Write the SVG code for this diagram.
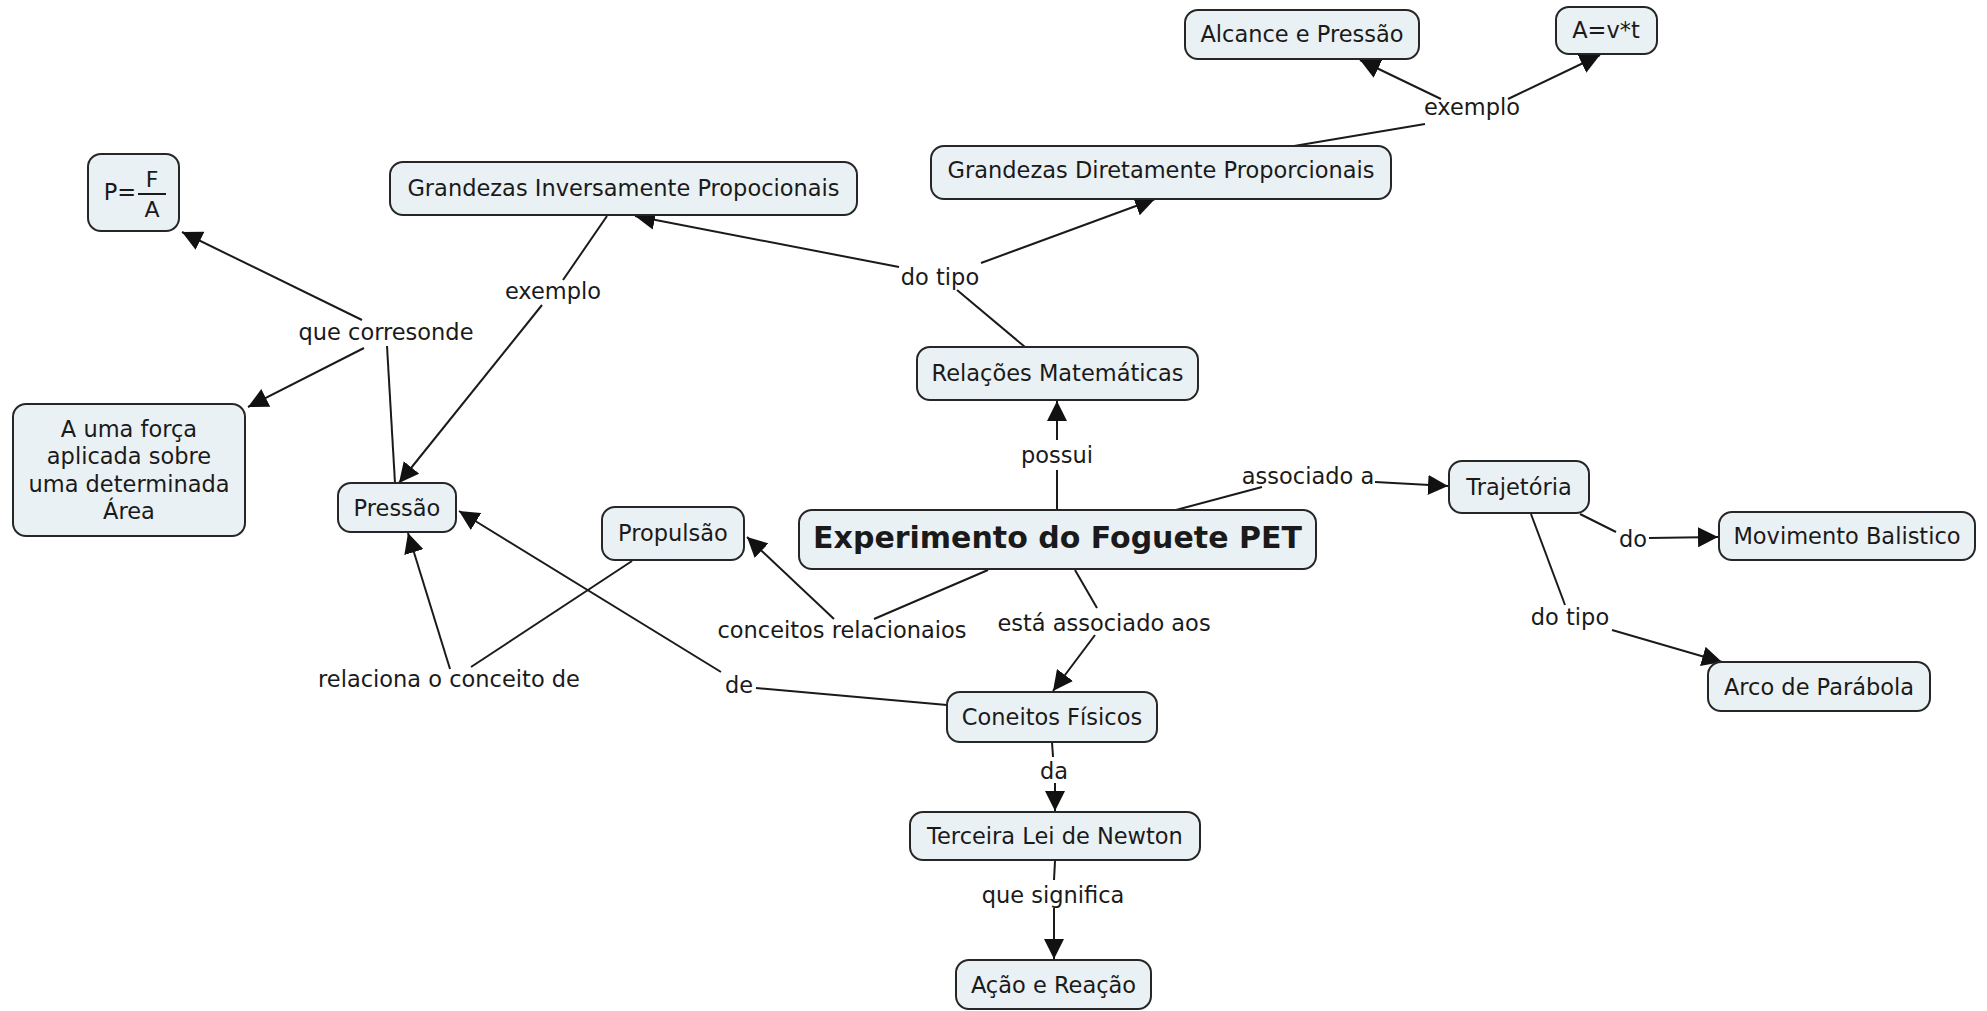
<svg xmlns="http://www.w3.org/2000/svg" width="1987" height="1011" viewBox="0 0 1987 1011">
<style>
.n rect{fill:#eaf1f4;stroke:#262626;stroke-width:2}
text{font-family:"DejaVu Sans","Liberation Sans",sans-serif;font-size:22.5px;fill:#1a1a1a;text-anchor:middle}
.b{font-weight:bold;font-size:30px}
.c line{stroke:#1a1a1a;stroke-width:2}
.a{marker-end:url(#ah)}
</style>
<defs>
<marker id="ah" markerUnits="userSpaceOnUse" markerWidth="20" markerHeight="20" refX="20" refY="10" orient="auto" viewBox="0 0 20 20">
<path d="M0,0 L20,10 L0,20 z" fill="#111"/>
</marker>
</defs>
<rect width="1987" height="1011" fill="#fff"/>
<g id="connectors" class="c">
<line x1="1294" y1="146" x2="1425" y2="124"/>
<line class="a" x1="1441" y1="99" x2="1360" y2="60"/>
<line class="a" x1="1508" y1="99" x2="1600" y2="55"/>
<line x1="607" y1="216" x2="563" y2="280"/>
<line class="a" x1="542" y1="305" x2="399" y2="483"/>
<line class="a" x1="362" y1="320" x2="182" y2="232"/>
<line class="a" x1="364" y1="348" x2="248" y2="407"/>
<line x1="395" y1="483" x2="387" y2="346"/>
<line class="a" x1="899" y1="267" x2="635" y2="216"/>
<line class="a" x1="981" y1="263" x2="1155" y2="199"/>
<line x1="1025" y1="347" x2="957" y2="290"/>
<line x1="1057" y1="510" x2="1057" y2="470"/>
<line class="a" x1="1057" y1="440" x2="1057" y2="401"/>
<line x1="1176" y1="510" x2="1262" y2="487"/>
<line class="a" x1="1375" y1="482" x2="1448" y2="486"/>
<line x1="1580" y1="514" x2="1616" y2="532"/>
<line class="a" x1="1649" y1="538" x2="1718" y2="537"/>
<line x1="1531" y1="514" x2="1565" y2="605"/>
<line class="a" x1="1612" y1="630" x2="1722" y2="662"/>
<line x1="988" y1="570" x2="874" y2="619"/>
<line class="a" x1="834" y1="619" x2="747" y2="537"/>
<line x1="1075" y1="570" x2="1097" y2="608"/>
<line class="a" x1="1095" y1="635" x2="1053" y2="691"/>
<line x1="632" y1="561" x2="471" y2="667"/>
<line class="a" x1="450" y1="669" x2="408" y2="533"/>
<line class="a" x1="721" y1="672" x2="459" y2="511"/>
<line x1="756" y1="688" x2="947" y2="705"/>
<line x1="1052" y1="742" x2="1053" y2="757"/>
<line class="a" x1="1055" y1="783" x2="1055" y2="811"/>
<line x1="1055" y1="861" x2="1054" y2="880"/>
<line class="a" x1="1054" y1="908" x2="1054" y2="959"/>
</g>
<g id="labels">
<text x="1472" y="115">exemplo</text>
<text x="940" y="285">do tipo</text>
<text x="553" y="299">exemplo</text>
<text x="386" y="340">que corresonde</text>
<text x="1057" y="463">possui</text>
<text x="1308" y="484">associado a</text>
<text x="1633" y="547">do</text>
<text x="1570" y="625">do tipo</text>
<text x="842" y="638">conceitos relacionaios</text>
<text x="1104" y="631">está associado aos</text>
<text x="449" y="687">relaciona o conceito de</text>
<text x="739" y="693">de</text>
<text x="1054" y="779">da</text>
<text x="1053" y="903">que significa</text>
</g>
<g id="alcance" class="n"><rect x="1185" y="10" width="234" height="49" rx="13"/><text x="1302" y="42">Alcance e Pressão</text></g>
<g id="avt" class="n"><rect x="1556" y="7" width="101" height="47" rx="13"/><text x="1606" y="38">A=v*t</text></g>
<g id="pfa" class="n"><rect x="88" y="154" width="91" height="77" rx="13"/><text x="120" y="200">P=</text><text x="152" y="187" style="font-size:22px">F</text><line x1="138" y1="194" x2="166" y2="194" stroke="#1a1a1a" stroke-width="2"/><text x="152" y="217" style="font-size:22px">A</text></g>
<g id="gip" class="n"><rect x="390" y="162" width="467" height="53" rx="13"/><text x="623.5" y="195.5">Grandezas Inversamente Propocionais</text></g>
<g id="gdp" class="n"><rect x="931" y="146" width="460" height="53" rx="13"/><text x="1161" y="177.5">Grandezas Diretamente Proporcionais</text></g>
<g id="relacoes" class="n"><rect x="917" y="347" width="281" height="53" rx="13"/><text x="1057.5" y="381">Relações Matemáticas</text></g>
<g id="forca" class="n"><rect x="13" y="404" width="232" height="132" rx="13"/><text x="129" y="437">A uma força</text><text x="129" y="464">aplicada sobre</text><text x="129" y="492">uma determinada</text><text x="129" y="519">Área</text></g>
<g id="pressao" class="n"><rect x="338" y="483" width="118" height="49" rx="13"/><text x="397" y="516">Pressão</text></g>
<g id="propulsao" class="n"><rect x="602" y="507" width="142" height="53" rx="13"/><text x="673" y="541">Propulsão</text></g>
<g id="experimento" class="n"><rect x="799" y="510" width="517" height="59" rx="13"/><text class="b" x="1057.5" y="547.5">Experimento do Foguete PET</text></g>
<g id="trajetoria" class="n"><rect x="1449" y="461" width="140" height="52" rx="13"/><text x="1519" y="495">Trajetória</text></g>
<g id="movimento" class="n"><rect x="1719" y="512" width="256" height="48" rx="13"/><text x="1847" y="544">Movimento Balistico</text></g>
<g id="arco" class="n"><rect x="1708" y="662" width="222" height="49" rx="13"/><text x="1819" y="694.5">Arco de Parábola</text></g>
<g id="coneitos" class="n"><rect x="947" y="692" width="210" height="50" rx="13"/><text x="1052" y="725">Coneitos Físicos</text></g>
<g id="terceira" class="n"><rect x="910" y="812" width="290" height="48" rx="13"/><text x="1055" y="844">Terceira Lei de Newton</text></g>
<g id="acao" class="n"><rect x="956" y="960" width="195" height="49" rx="13"/><text x="1053.5" y="993">Ação e Reação</text></g>
</svg>
